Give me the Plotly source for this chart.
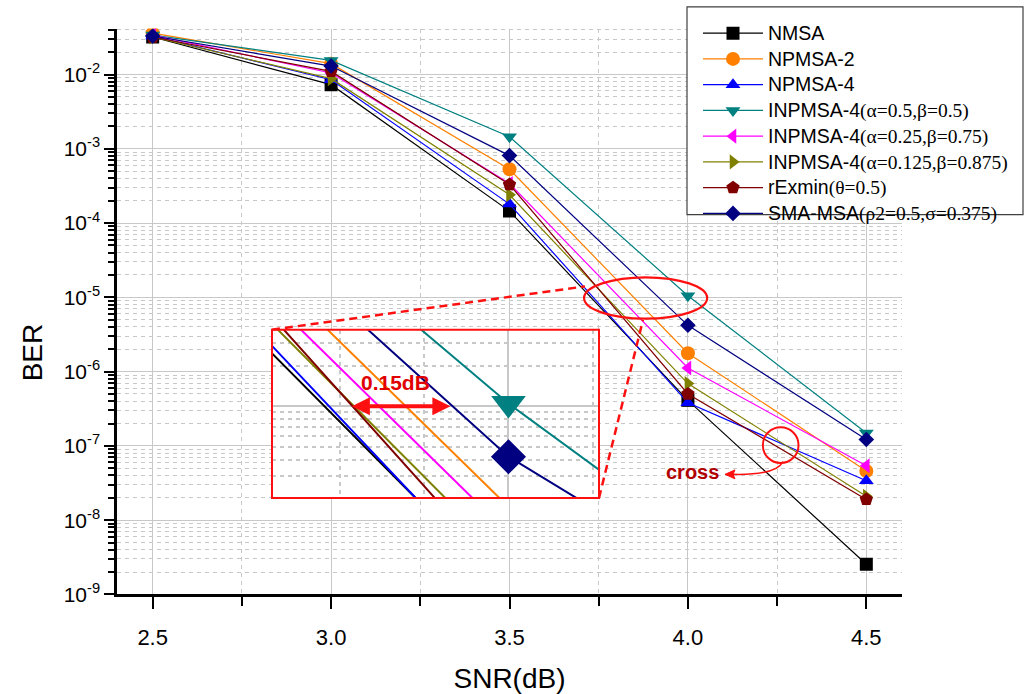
import plotly.graph_objects as go

# ---------------- data ----------------
snr = [2.5, 3.0, 3.5, 4.0, 4.5]

name_main = ["NMSA", "NPMSA-2", "NPMSA-4", "INPMSA-4", "INPMSA-4",
             "INPMSA-4", "rExmin", "SMA-MSA"]
name_param = ["", "", "", "(α=0.5,β=0.5)", "(α=0.25,β=0.75)",
              "(α=0.125,β=0.875)", "(θ=0.5)", "(ρ2=0.5,σ=0.375)"]

ber_nmsa = [3.2e-2, 7.3e-3, 1.45e-4, 4.1e-7, 2.55e-9]
ber_npmsa2 = [3.6e-2, 1.4e-2, 5.3e-4, 1.77e-6, 4.6e-8]
ber_npmsa4 = [3.3e-2, 8.5e-3, 1.8e-4, 3.8e-7, 3.4e-8]
ber_inp_05 = [3.4e-2, 1.55e-2, 1.45e-3, 1.05e-5, 1.49e-7]
ber_inp_025 = [3.4e-2, 1.05e-2, 3.4e-4, 1.12e-6, 5.4e-8]
ber_inp_0125 = [3.2e-2, 8.8e-3, 2.4e-4, 6.9e-7, 2.1e-8]
ber_rexmin = [3.2e-2, 1.1e-2, 3.3e-4, 5.0e-7, 1.9e-8]
ber_smamsa = [3.3e-2, 1.3e-2, 8.1e-4, 4.2e-6, 1.22e-7]

series = [ber_nmsa, ber_npmsa2, ber_npmsa4, ber_inp_05,
          ber_inp_025, ber_inp_0125, ber_rexmin, ber_smamsa]

x_tickvals = [2.5, 3.0, 3.5, 4.0, 4.5]
x_ticktext = ["2.5", "3.0", "3.5", "4.0", "4.5"]
y_tickvals = [1e-9, 1e-8, 1e-7, 1e-6, 1e-5, 1e-4, 1e-3, 1e-2]
y_ticktext = ["10<sup>-9</sup>", "10<sup>-8</sup>", "10<sup>-7</sup>", "10<sup>-6</sup>",
              "10<sup>-5</sup>", "10<sup>-4</sup>", "10<sup>-3</sup>", "10<sup>-2</sup>"]

# ---------------- styles ----------------
colors = ["#000000", "#FF8000", "#0000FF", "#008080",
          "#FF00FF", "#808000", "#800000", "#000080"]
symbols = ["square", "circle", "triangle-up", "triangle-down",
           "triangle-left", "triangle-right", "pentagon", "diamond"]
msizes = [13, 14, 13, 13, 13, 13, 14, 12]
inset_marker = {3: ("triangle-down", 30), 7: ("diamond", 27)}

FONT = "Liberation Sans, Arial, sans-serif"
SERIF = "Liberation Serif, Times New Roman, serif"
W, H = 1029, 694
# plot-area box in pixels (whole figure used as paper, no margins)
PL, PR, PT, PB = 117, 902, 29, 604


def pxx(p):
    return p / W


def pxy(p):
    return 1 - p / H


def legend_label(main, param):
    s = f'<span style="font-size:19.5px">{main}</span>'
    if param:
        s += f'<span style="font-family:{SERIF};font-size:19.5px">{param}</span>'
    return s


RED = "#FF1010"
GRID = "#C8C8C8"

fig = go.Figure()

# main curves
for i, ys in enumerate(series):
    fig.add_trace(go.Scatter(
        x=snr, y=ys, name=legend_label(name_main[i], name_param[i]), mode="lines+markers",
        line=dict(color=colors[i], width=1.2),
        marker=dict(symbol=symbols[i], size=msizes[i], color=colors[i], line=dict(width=0)),
    ))

# inset (zoomed view of the same data)
inset_x = [3.65, 4.134]
inset_ylog = [-5.686, -4.426]
for i, ys in enumerate(series):
    if i in inset_marker:
        sym, sz = inset_marker[i]
        mode = "lines+markers"
        mk = dict(symbol=sym, size=sz, color=colors[i], line=dict(width=0))
    else:
        mode = "lines"
        mk = None
    fig.add_trace(go.Scatter(
        x=snr, y=ys, mode=mode, xaxis="x2", yaxis="y2", showlegend=False,
        line=dict(color=colors[i], width=2), marker=mk, hoverinfo="skip",
    ))

shapes = []
# legend frame (white box, drawn above the grid)
shapes.append(dict(type="rect", xref="paper", yref="paper", layer="above",
                   x0=pxx(687), x1=pxx(1023), y0=pxy(218), y1=pxy(7),
                   fillcolor="white", line=dict(color="#404040", width=1.2)))
# white background of inset (drawn in inset subplot, above main grid)
shapes.append(dict(type="rect", xref="x2", yref="y2", layer="below",
                   x0=inset_x[0], x1=inset_x[1],
                   y0=10 ** inset_ylog[0], y1=10 ** inset_ylog[1],
                   fillcolor="white", line=dict(width=0)))
# inset red frame
shapes.append(dict(type="rect", xref="paper", yref="paper", layer="above",
                   x0=pxx(272), x1=pxx(599), y0=pxy(506), y1=pxy(335),
                   line=dict(color=RED, width=2)))
# dashed connector lines
for (a, b, c, d) in [(272, 335, 585, 291), (599, 506, 643, 325)]:
    shapes.append(dict(type="line", xref="paper", yref="paper", layer="above",
                       x0=pxx(a), y0=pxy(b), x1=pxx(c), y1=pxy(d),
                       line=dict(color=RED, width=2.5, dash="8px,5px")))
# ellipse around the 1e-5 region
shapes.append(dict(type="circle", xref="x", yref="y", layer="above",
                   x0=3.709, x1=4.054, y0=10 ** -5.288, y1=10 ** -4.731,
                   line=dict(color=RED, width=2.2)))
# small circle at the crossing
shapes.append(dict(type="circle", xref="x", yref="y", layer="above",
                   x0=4.21, x1=4.31, y0=10 ** -7.23, y1=10 ** -6.75,
                   line=dict(color=RED, width=2)))
# curved arrow from circle to "cross"
p = lambda a, b: f"{pxx(a):.5f},{pxy(b):.5f}"
shapes.append(dict(type="path", xref="paper", yref="paper", layer="above",
                   path=f"M{p(783, 469)} Q{p(776, 483)} {p(733, 482)}",
                   line=dict(color=RED, width=1.5)))
shapes.append(dict(type="path", xref="paper", yref="paper", layer="above",
                   path=f"M{p(725, 482)} L{p(735, 477.5)} L{p(733, 482)} L{p(735, 486.5)} Z",
                   fillcolor=RED, line=dict(color=RED, width=1)))

annotations = [
    dict(text="BER", xref="paper", yref="paper", x=pxx(32), y=pxy(358),
         xanchor="center", yanchor="middle",
         textangle=-90, showarrow=False, font=dict(family=FONT, size=28, color="black")),
    dict(text="<b>cross</b>", xref="paper", yref="paper", x=pxx(692), y=pxy(480),
         xanchor="center", yanchor="middle",
         showarrow=False, font=dict(family=FONT, size=20, color="#B00000")),
    dict(text="<b>0.15dB</b>", xref="paper", yref="paper", x=pxx(395), y=pxy(389),
         xanchor="center", yanchor="middle",
         showarrow=False, font=dict(family=FONT, size=21, color="#E00000")),
    dict(text="", xref="x2", yref="y2", x=3.914, y=-5, axref="x2", ayref="y2",
         ax=3.766, ay=-5, showarrow=True, arrowside="end+start", arrowhead=2,
         arrowsize=0.9, arrowwidth=4, arrowcolor=RED),
]

fig.update_layout(
    width=W, height=H, autosize=False,
    margin=dict(l=0, r=0, t=0, b=0, pad=0),
    paper_bgcolor="white", plot_bgcolor="white",
    font=dict(family=FONT, color="black"),
    showlegend=True,
    legend=dict(x=pxx(698), y=pxy(15.5), xanchor="left", yanchor="top",
                bgcolor="rgba(0,0,0,0)", borderwidth=0,
                font=dict(family=FONT, size=17.5, color="black"),
                tracegroupgap=0, itemwidth=60),
    xaxis=dict(
        domain=[pxx(PL), pxx(PR)], anchor="y",
        range=[2.4, 4.6], tickmode="array", tickvals=x_tickvals, ticktext=x_ticktext,
        ticks="outside", ticklen=12, tickwidth=2, tickcolor="black",
        showline=True, linewidth=2.5, linecolor="black", zeroline=False,
        showgrid=True, gridcolor=GRID, gridwidth=1,
        minor=dict(tickvals=[2.75, 3.25, 3.75, 4.25], ticks="outside", ticklen=9,
                   tickwidth=1.5, tickcolor="black", showgrid=True,
                   gridcolor=GRID, griddash="4px,4px"),
        tickfont=dict(size=22), ticklabelstandoff=9,
        title=dict(text="SNR(dB)", font=dict(size=28), standoff=20),
    ),
    yaxis=dict(
        domain=[pxy(PB), pxy(PT)], anchor="x",
        type="log", range=[-9, -1.381], tickmode="array", tickvals=y_tickvals,
        ticktext=y_ticktext, ticks="outside", ticklen=10, tickwidth=2, tickcolor="black",
        showline=True, linewidth=2.5, linecolor="black", zeroline=False,
        showgrid=True, gridcolor=GRID, gridwidth=1,
        minor=dict(dtick="D1", ticks="outside", ticklen=6, tickwidth=1.5,
                   tickcolor="black", showgrid=True, gridcolor=GRID, griddash="4px,4px"),
        tickfont=dict(size=21),
    ),
    xaxis2=dict(
        domain=[pxx(272), pxx(599)], anchor="y2", range=inset_x,
        showticklabels=False, ticks="", showline=False, zeroline=False,
        tickmode="linear", tick0=3.0, dtick=0.5,
        showgrid=True, gridcolor=GRID, gridwidth=1.5,
        minor=dict(tick0=3.0, dtick=0.125, showgrid=True, gridcolor=GRID, griddash="4px,4px"),
    ),
    yaxis2=dict(
        domain=[pxy(506), pxy(335)], anchor="x2", type="log", range=inset_ylog,
        showticklabels=False, ticks="", showline=False, zeroline=False,
        tickmode="linear", dtick=1,
        showgrid=True, gridcolor=GRID, gridwidth=1.5,
        minor=dict(dtick="D1", showgrid=True, gridcolor=GRID, griddash="4px,4px"),
    ),
    shapes=shapes,
    annotations=annotations,
)

post = """
document.documentElement.style.margin='0px';
document.body.style.margin='0px';
document.body.style.padding='0px';
"""

fig.write_html("out.html", post_script=post, config={"displayModeBar": False})
